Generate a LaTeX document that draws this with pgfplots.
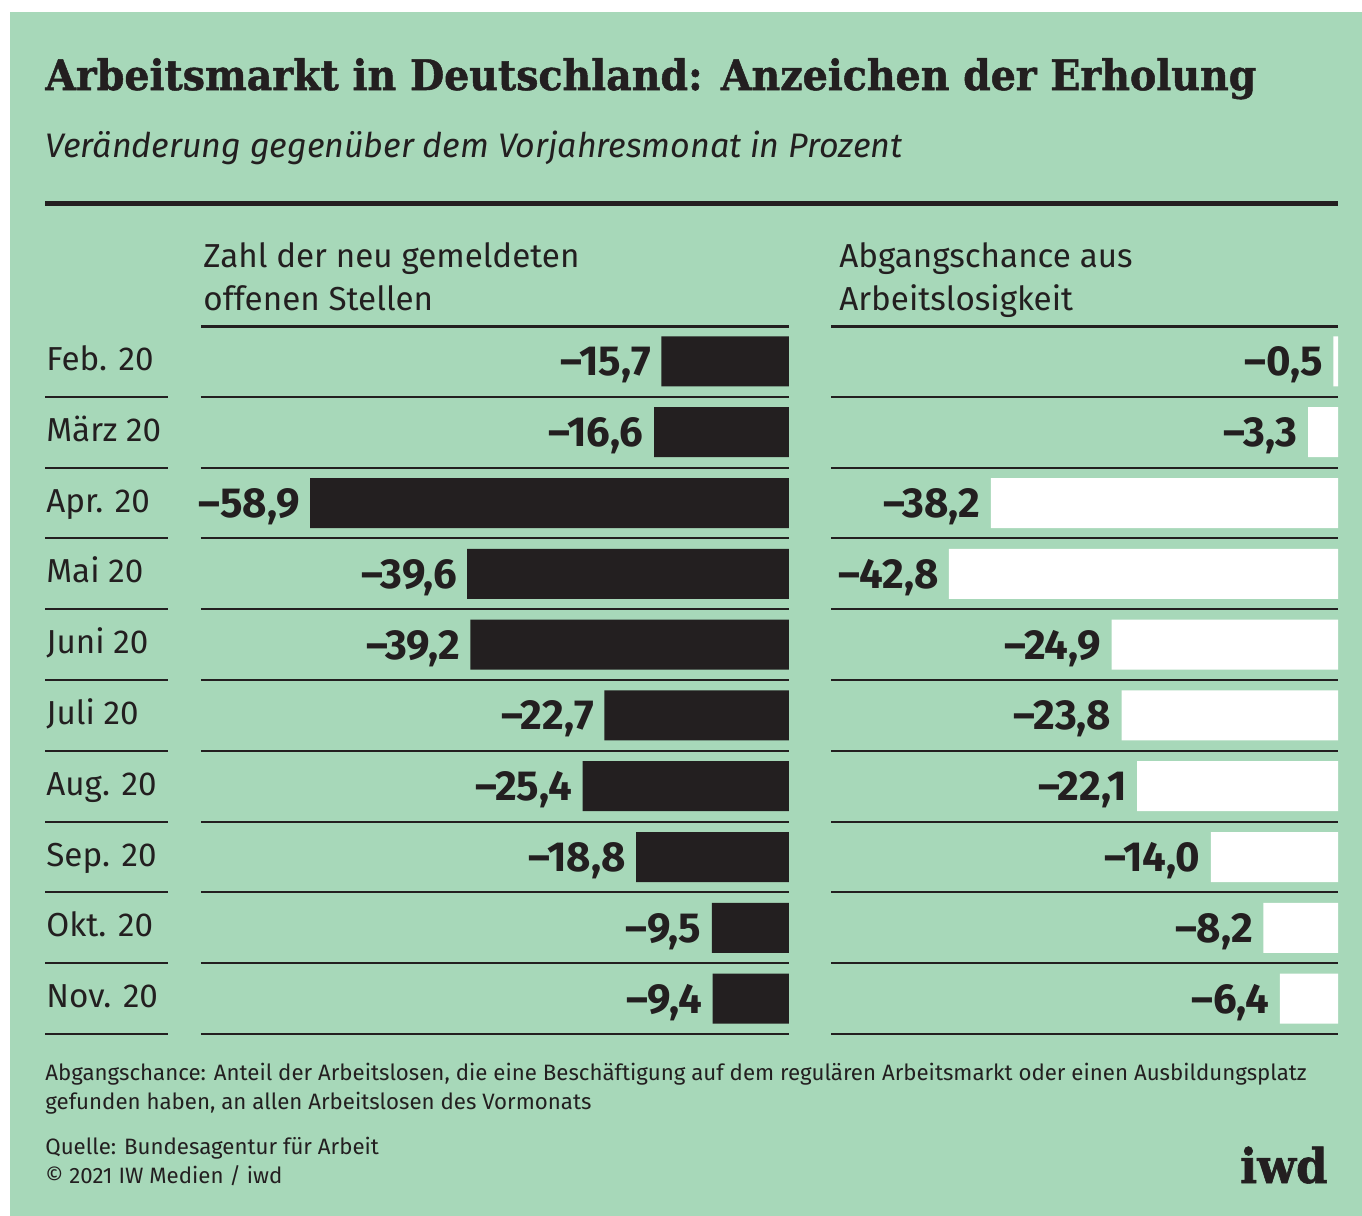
\documentclass[border=0pt]{standalone}
\usepackage{pgfplots}
\pgfplotsset{compat=1.18}
\usepackage{pgfplotstable}
\usepackage{fontspec}
\setmainfont{Fira Sans}
\newfontfamily\titlefont{DejaVu Serif Bold}[FakeStretch=0.94, FakeBold=1.2]
\definecolor{bg}{HTML}{A7D8B9}
\definecolor{ink}{HTML}{231F20}

\pgfplotstableread{
y v
0 15.7
1 16.6
2 58.9
3 39.6
4 39.2
5 22.7
6 25.4
7 18.8
8 9.5
9 9.4
}\stellen
\pgfplotstableread{
y v
0 0.5
1 3.3
2 38.2
3 42.8
4 24.9
5 23.8
6 22.1
7 14.0
8 8.2
9 6.4
}\abgang

\pgfplotsset{
  panel/.style={
    scale only axis, height=354pt,
    xmax=0, ymin=-0.5, ymax=9.5, y dir=reverse,
    enlargelimits=false, clip=false,
    axis line style={draw=none}, major tick length=0pt,
    xtick=\empty,
    extra y ticks={0.5,1.5,...,9.5}, extra y tick labels={},
    extra y tick style={grid=major, major grid style={ink, line width=1pt}},
    xbar, bar width=25pt,
    point meta=explicit,
    nodes near coords={–\pgfmathprintnumber[fixed,fixed zerofill,precision=1,use comma,assume math mode=true]{\pgfplotspointmeta}},
    nodes near coords style={anchor=east, inner sep=0pt, xshift=-5pt, text depth=0pt,
      font=\bfseries\fontsize{21}{25}\selectfont, text=ink,
      /pgf/number format/assume math mode=true},
  }
}

\begin{document}
\begin{tikzpicture}
\begin{scope}[x=0.5pt,y=-0.5pt]
\path[use as bounding box] (0,0) rectangle (1362,1216);
\fill[white] (0,0) rectangle (1362,1216);
\fill[bg] (10,12) rectangle (1362,1216);
\node[anchor=base west, inner sep=0, text=ink, font=\titlefont\fontsize{21}{25}\selectfont] at (45,90) {Arbeitsmarkt in Deutschland: Anzeichen der Erholung};
\node[anchor=base west, inner sep=0, text=ink, font=\itshape\fontsize{17}{20}\selectfont] at (45,157) {Veränderung gegenüber dem Vorjahresmonat in Prozent};
\draw[ink, line width=2.5pt] (45,203) -- (1338,203);
\node[anchor=base west, inner sep=0, text=ink, font=\fontsize{16.6}{20}\selectfont] at (203,267) {Zahl der neu gemeldeten};
\node[anchor=base west, inner sep=0, text=ink, font=\fontsize{16.6}{20}\selectfont] at (203,310) {offenen Stellen};
\node[anchor=base west, inner sep=0, text=ink, font=\fontsize{16.6}{20}\selectfont] at (839,267) {Abgangschance aus};
\node[anchor=base west, inner sep=0, text=ink, font=\fontsize{16.6}{20}\selectfont] at (839,310) {Arbeitslosigkeit};
\draw[ink, line width=1.5pt] (201,326) -- (789,326);
\draw[ink, line width=1.5pt] (831,326) -- (1338,326);
\foreach \k in {1,...,10} {
  \draw[ink, line width=1pt] (45,{326+70.8*\k}) -- (168,{326+70.8*\k});
}
\node[anchor=base west, inner sep=0, text=ink, font=\fontsize{11.13}{14}\selectfont] at (45,1080) {Abgangschance: Anteil der Arbeitslosen, die eine Beschäftigung auf dem regulären Arbeitsmarkt oder einen Ausbildungsplatz};
\node[anchor=base west, inner sep=0, text=ink, font=\fontsize{11.13}{14}\selectfont] at (45,1109) {gefunden haben, an allen Arbeitslosen des Vormonats};
\node[anchor=base west, inner sep=0, text=ink, font=\fontsize{11.13}{14}\selectfont] at (45,1154) {Quelle: Bundesagentur für Arbeit};
\node[anchor=base west, inner sep=0, text=ink, font=\fontsize{11.13}{14}\selectfont] at (45,1183) {© 2021 IW Medien / iwd};
\node[anchor=base east, inner sep=0, text=ink, font=\titlefont\fontsize{24}{30}\selectfont] at (1328,1183) {iwd};
\end{scope}

\begin{axis}[panel,
  at={(100.5pt,-163pt)}, anchor=north west,
  width=294pt, xmin=-72.33,
  ytick={0,...,9},
  yticklabels={Feb. 20,März 20,Apr. 20,Mai 20,Juni 20,Juli 20,Aug. 20,Sep. 20,Okt. 20,Nov. 20},
  yticklabel style={anchor=west, inner sep=0pt, xshift=-77.5pt, yshift=-1pt, text height=0.7em, text depth=0pt,
    font=\fontsize{16.6}{20}\selectfont, text=ink},
]
\addplot[draw=none, fill=ink] table[x expr=-\thisrow{v}, y=y, meta=v] {\stellen};
\end{axis}

\begin{axis}[panel,
  at={(415.5pt,-163pt)}, anchor=north west,
  width=253.5pt, xmin=-55.78,
  ytick=\empty,
]
\addplot[draw=none, fill=white] table[x expr=-\thisrow{v}, y=y, meta=v] {\abgang};
\end{axis}
\end{tikzpicture}
\end{document}
